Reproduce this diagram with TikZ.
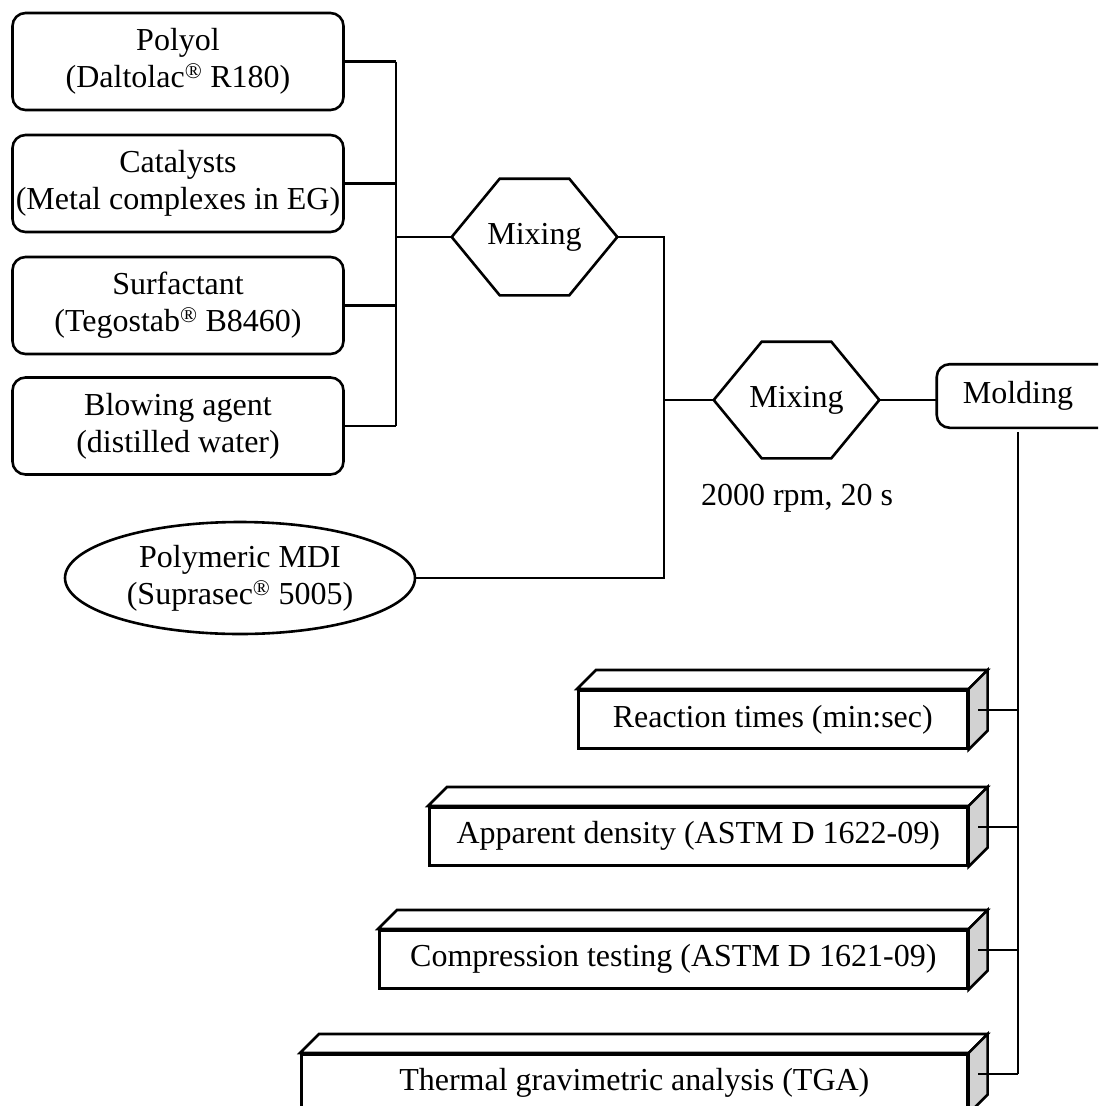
\documentclass[tikz,border=0pt]{standalone}
\usepackage{fontspec}
\setmainfont{Liberation Serif}
\usetikzlibrary{calc,shapes.geometric}

\tikzset{
  feed/.style={draw, rounded corners=13pt, minimum width=331pt, minimum height=97pt, inner sep=0pt, align=center},
  mix/.style={minimum width=163pt, minimum height=114pt, inner sep=0pt},
  testbox/.style={draw, fill=white, anchor=north west, minimum height=58pt, inner sep=0pt}
}

\begin{document}
\begin{tikzpicture}[x=1pt, y=-1pt, line width=2.6pt,
  every node/.style={font=\fontsize{32pt}{37pt}\selectfont}]

\useasboundingbox (0,0) rectangle (1098,1106);
\clip (0,0) rectangle (1098,1106);

% raw materials
\node[feed] (polyol) at (178,61.5) {Polyol\\(Daltolac\textsuperscript{\textregistered} R180)};
\node[feed] (cat) at (178,183.5) {Catalysts\\(Metal complexes in EG)};
\node[feed] (surf) at (178,305.5) {Surfactant\\(Tegostab\textsuperscript{\textregistered} B8460)};
\node[feed] (blow) at (178,426) {Blowing agent\\(distilled water)};
\node[draw, ellipse, minimum width=350pt, minimum height=112pt, inner sep=0pt, align=center] (mdi) at (240,578)
  {Polymeric MDI\\(Suprasec\textsuperscript{\textregistered} 5005)};

% mixing steps
\node[mix] (mix1) at (534.5,237) {Mixing};
\node[mix] (mix2) at (796.5,400) {Mixing};
\node (rpm) at (797,498) {2000 rpm, 20 s};
\foreach \m in {mix1,mix2}
  \draw (\m.west) -- ([xshift=48pt]\m.north west) -- ([xshift=-48pt]\m.north east)
    -- (\m.east) -- ([xshift=-48pt]\m.south east) -- ([xshift=48pt]\m.south west) -- cycle;

% molding box runs on past the right edge
\node[minimum width=160pt, minimum height=61pt] (mold) at (1018,396) {Molding};
\draw[rounded corners=13pt] (mold.north west) rectangle ([xshift=40pt]mold.south east);

% tests on the foam
\node[testbox, minimum width=389pt] (t1) at (577,689) {Reaction times (min:sec)};
\node[testbox, minimum width=538pt] (t2) at (428,806) {Apparent density (ASTM D 1622-09)};
\node[testbox, minimum width=588pt] (t3) at (378,929) {Compression testing (ASTM D 1621-09)};
\node[testbox, minimum width=666pt] (t4) at (300,1053) {Thermal gravimetric analysis (TGA)};
\foreach \t in {t1,t2,t3,t4} {
  \draw[fill=white] (\t.north west) -- ++(19,-19) -- ($(\t.north east)+(19,-19)$) -- (\t.north east) -- cycle;
  \draw[fill=gray!35] (\t.north east) -- ++(19,-19) -- ($(\t.south east)+(19,-19)$) -- (\t.south east) -- cycle;
  \coordinate (\t-side) at ($(\t.east)+(9.5,-9.5)$);
}

% connectors
\coordinate (bus1) at (396,0);
\coordinate (bus2) at (664,0);
\foreach \f in {polyol,cat,surf,blow}
  \draw (\f.east) -- (\f.east -| bus1);
\draw (polyol.east -| bus1) -- (blow.east -| bus1);
\draw (mix1.west -| bus1) -- (mix1.west);
\draw (mix1.east) -- (mix1.east -| bus2) -- (mdi.east -| bus2) -- (mdi.east);
\draw (mix2.west -| bus2) -- (mix2.west);
\draw (mix2.east) -- (mix2.east -| mold.west);
\draw ([yshift=-4pt]mold.south) -- (t4-side -| mold.south);
\foreach \t in {t1,t2,t3,t4}
  \draw (\t-side) -- (\t-side -| mold.south);

\end{tikzpicture}
\end{document}
